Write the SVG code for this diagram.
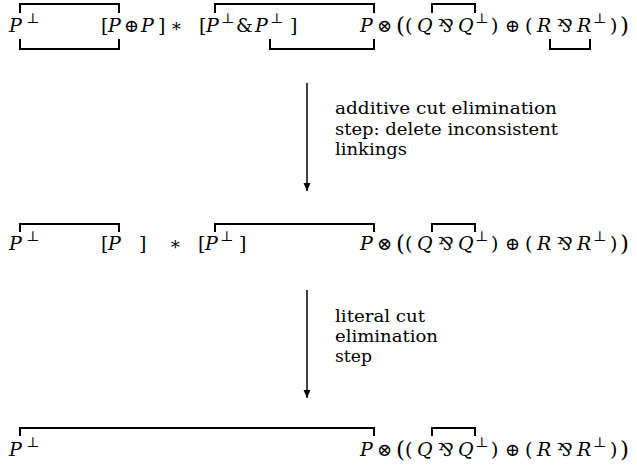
<svg xmlns="http://www.w3.org/2000/svg" width="637" height="470" viewBox="0 0 637 470">
<style>
text{font-family:'DejaVu Serif',serif;fill:#000}
.m{font-size:19px}
.i{font-size:19px;font-style:italic}
.s{font-size:14px}
.b{font-size:23px}
.o{font-size:18px}
.lbl{font-size:16px}
.lk{fill:none;stroke:#000;stroke-width:2;stroke-linecap:square}
.ar{fill:none;stroke:#000;stroke-width:1.5}
</style>
<defs>
<marker id="ah" viewBox="0 0 8 10" refX="8" refY="5" markerWidth="8" markerHeight="10" markerUnits="userSpaceOnUse" orient="auto">
<path d="M0,1.5 L8,5 L0,8.5 Z" fill="#000"/>
</marker>
</defs>
<g id="row1">
<text class="i" x="9" y="32">P</text><text class="s" x="26" y="23">⊥</text>
<text class="m" x="101" y="32">[</text><text class="i" x="108" y="32">P</text><text class="o" x="124" y="32">⊕</text><text class="i" x="141" y="32">P</text><text class="m" x="158" y="32">]</text>
<text class="o" x="170" y="32">∗</text>
<text class="m" x="199" y="32">[</text><text class="i" x="206" y="32">P</text><text class="s" x="221" y="23">⊥</text><text class="m" x="236" y="32">&amp;</text><text class="i" x="255" y="32">P</text><text class="s" x="270" y="23">⊥</text><text class="m" x="290" y="32">]</text>
<text class="i" x="360" y="32">P</text><text class="o" x="377" y="32">⊗</text><text class="b" x="396" y="33">(</text><text class="m" x="405" y="32">(</text><text class="i" x="417" y="32">Q</text><text class="o" x="438" y="32">⅋</text><text class="i" x="458" y="32">Q</text><text class="s" x="475" y="23">⊥</text><text class="m" x="491" y="32">)</text><text class="o" x="505" y="32">⊕</text><text class="m" x="525" y="32">(</text><text class="i" x="537" y="32">R</text><text class="o" x="557" y="32">⅋</text><text class="i" x="577" y="32">R</text><text class="s" x="593" y="23">⊥</text><text class="m" x="610" y="32">)</text><text class="b" x="620" y="33">)</text>
</g>
<g id="row2">
<text class="i" x="9" y="250">P</text><text class="s" x="26" y="241">⊥</text>
<text class="m" x="101" y="250">[</text><text class="i" x="108" y="250">P</text><text class="m" x="139" y="250">]</text>
<text class="o" x="169" y="250">∗</text>
<text class="m" x="198" y="250">[</text><text class="i" x="205" y="250">P</text><text class="s" x="220" y="241">⊥</text><text class="m" x="239" y="250">]</text>
<text class="i" x="360" y="250">P</text><text class="o" x="377" y="250">⊗</text><text class="b" x="396" y="251">(</text><text class="m" x="405" y="250">(</text><text class="i" x="417" y="250">Q</text><text class="o" x="438" y="250">⅋</text><text class="i" x="458" y="250">Q</text><text class="s" x="475" y="241">⊥</text><text class="m" x="491" y="250">)</text><text class="o" x="505" y="250">⊕</text><text class="m" x="525" y="250">(</text><text class="i" x="537" y="250">R</text><text class="o" x="557" y="250">⅋</text><text class="i" x="577" y="250">R</text><text class="s" x="593" y="241">⊥</text><text class="m" x="610" y="250">)</text><text class="b" x="620" y="251">)</text>
</g>
<g id="row3">
<text class="i" x="9" y="456">P</text><text class="s" x="26" y="447">⊥</text>
<text class="i" x="360" y="456">P</text><text class="o" x="377" y="456">⊗</text><text class="b" x="396" y="457">(</text><text class="m" x="405" y="456">(</text><text class="i" x="417" y="456">Q</text><text class="o" x="438" y="456">⅋</text><text class="i" x="458" y="456">Q</text><text class="s" x="475" y="447">⊥</text><text class="m" x="491" y="456">)</text><text class="o" x="505" y="456">⊕</text><text class="m" x="525" y="456">(</text><text class="i" x="537" y="456">R</text><text class="o" x="557" y="456">⅋</text><text class="i" x="577" y="456">R</text><text class="s" x="593" y="447">⊥</text><text class="m" x="610" y="456">)</text><text class="b" x="620" y="457">)</text>
</g>
<g id="label1">
<text class="lbl" x="335" y="114" textLength="222" lengthAdjust="spacingAndGlyphs">additive cut elimination</text>
<text class="lbl" x="335" y="134.5" textLength="223" lengthAdjust="spacingAndGlyphs">step: delete inconsistent</text>
<text class="lbl" x="335" y="155" textLength="72" lengthAdjust="spacingAndGlyphs">linkings</text>
</g>
<g id="label2">
<text class="lbl" x="335" y="322" textLength="90" lengthAdjust="spacingAndGlyphs">literal cut</text>
<text class="lbl" x="335" y="342" textLength="103" lengthAdjust="spacingAndGlyphs">elimination</text>
<text class="lbl" x="335" y="362" textLength="37" lengthAdjust="spacingAndGlyphs">step</text>
</g>
<g id="connectors">
<path class="lk" d="M20,12 V4 H119 V12"/>
<path class="lk" d="M20,40 V49 H119 V40"/>
<path class="lk" d="M215,12 V4 H374 V12"/>
<path class="lk" d="M270,40 V49 H374 V40"/>
<path class="lk" d="M432,12 V4 H475 V12"/>
<path class="lk" d="M550,40 V49 H590 V40"/>
<path class="lk" d="M20,231 V224 H119 V231"/>
<path class="lk" d="M215,231 V224 H374 V231"/>
<path class="lk" d="M432,231 V224 H475 V231"/>
<path class="lk" d="M20,435 V428 H374 V435"/>
<path class="lk" d="M432,435 V428 H475 V435"/>
<line class="ar" x1="307" y1="83" x2="307" y2="191" marker-end="url(#ah)"/>
<line class="ar" x1="307" y1="290" x2="307" y2="398" marker-end="url(#ah)"/>
</g>
</svg>
